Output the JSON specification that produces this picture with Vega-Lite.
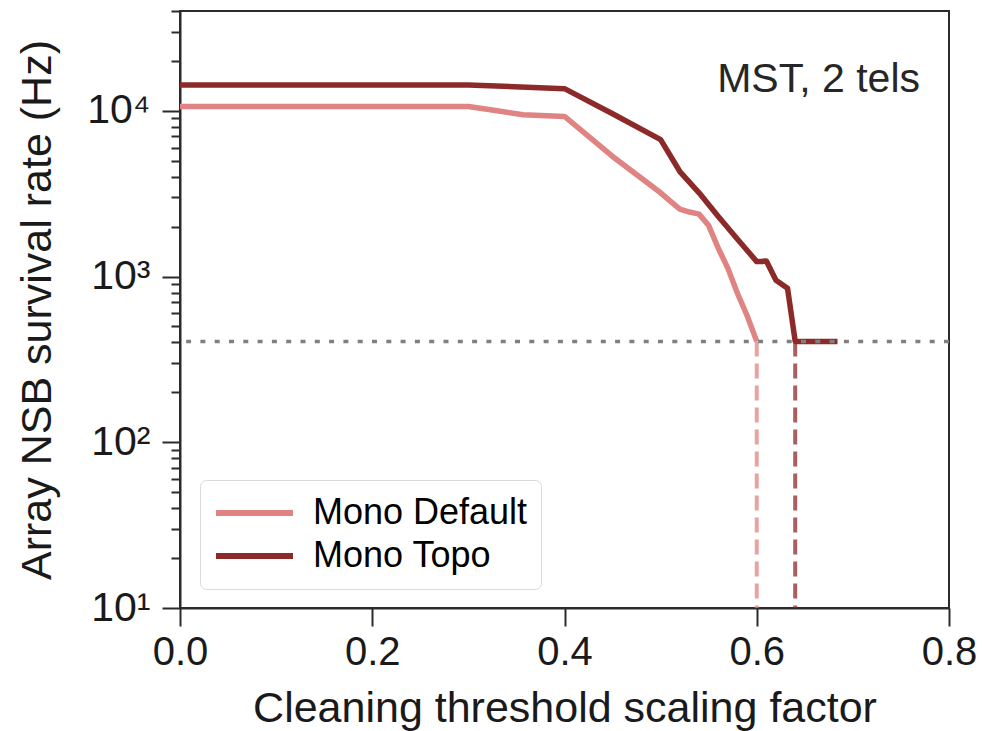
{
  "$schema": "https://vega.github.io/schema/vega-lite/v6.json",
  "width": 769,
  "height": 597,
  "autosize": {"type": "none"},
  "padding": {"left": 180, "top": 11, "right": 34, "bottom": 123},
  "background": "white",
  "config": {
    "font": "Liberation Sans",
    "view": {"stroke": "#2b2b2b", "strokeWidth": 2},
    "axis": {
      "domainColor": "#2b2b2b",
      "domainWidth": 2,
      "tickColor": "#2b2b2b",
      "tickWidth": 2,
      "grid": false,
      "labelFont": "Liberation Sans",
      "labelColor": "#1a1a1a",
      "titleFont": "Liberation Sans",
      "titleColor": "#1a1a1a",
      "titleFontWeight": "normal"
    }
  },
  "title": {
    "text": "MST, 2 tels",
    "anchor": "end",
    "frame": "group",
    "orient": "top",
    "offset": -81,
    "dx": -29,
    "dy": 62,
    "fontSize": 41,
    "fontWeight": "normal",
    "font": "Liberation Sans",
    "color": "#262626",
    "baseline": "alphabetic"
  },
  "datasets": {
    "curves": [
      {"series": "Mono Default", "x": 0.0, "y": 10600},
      {"series": "Mono Default", "x": 0.1, "y": 10600},
      {"series": "Mono Default", "x": 0.2, "y": 10600},
      {"series": "Mono Default", "x": 0.3, "y": 10600},
      {"series": "Mono Default", "x": 0.33, "y": 10000},
      {"series": "Mono Default", "x": 0.357, "y": 9460},
      {"series": "Mono Default", "x": 0.4, "y": 9250},
      {"series": "Mono Default", "x": 0.45, "y": 5300},
      {"series": "Mono Default", "x": 0.5, "y": 3200},
      {"series": "Mono Default", "x": 0.51, "y": 2850},
      {"series": "Mono Default", "x": 0.52, "y": 2550},
      {"series": "Mono Default", "x": 0.53, "y": 2450},
      {"series": "Mono Default", "x": 0.54, "y": 2380},
      {"series": "Mono Default", "x": 0.55, "y": 2030},
      {"series": "Mono Default", "x": 0.56, "y": 1480},
      {"series": "Mono Default", "x": 0.57, "y": 1120},
      {"series": "Mono Default", "x": 0.58, "y": 790},
      {"series": "Mono Default", "x": 0.59, "y": 580},
      {"series": "Mono Default", "x": 0.6, "y": 406},
      {"series": "Mono Topo", "x": 0.0, "y": 14300},
      {"series": "Mono Topo", "x": 0.1, "y": 14300},
      {"series": "Mono Topo", "x": 0.2, "y": 14300},
      {"series": "Mono Topo", "x": 0.3, "y": 14300},
      {"series": "Mono Topo", "x": 0.4, "y": 13600},
      {"series": "Mono Topo", "x": 0.45, "y": 9600},
      {"series": "Mono Topo", "x": 0.5, "y": 6700},
      {"series": "Mono Topo", "x": 0.52, "y": 4300},
      {"series": "Mono Topo", "x": 0.54, "y": 3200},
      {"series": "Mono Topo", "x": 0.56, "y": 2300},
      {"series": "Mono Topo", "x": 0.58, "y": 1680},
      {"series": "Mono Topo", "x": 0.6, "y": 1230},
      {"series": "Mono Topo", "x": 0.61, "y": 1240},
      {"series": "Mono Topo", "x": 0.62, "y": 950},
      {"series": "Mono Topo", "x": 0.632, "y": 850},
      {"series": "Mono Topo", "x": 0.64, "y": 406},
      {"series": "Mono Topo", "x": 0.684, "y": 406}
    ],
    "drops": [
      {"series": "Mono Default", "x": 0.6, "top": 406, "bottom": 10},
      {"series": "Mono Topo", "x": 0.64, "top": 406, "bottom": 10}
    ],
    "threshold": [
      {"rate": 406}
    ]
  },
  "layer": [
    {
      "data": {"name": "curves"},
      "mark": {"type": "line", "strokeWidth": 5.5, "strokeJoin": "round", "strokeCap": "butt", "clip": true},
      "encoding": {
        "x": {
          "field": "x",
          "type": "quantitative",
          "scale": {"domain": [0, 0.8], "nice": false, "zero": false},
          "axis": {
            "title": "Cleaning threshold scaling factor",
            "titleFontSize": 43,
            "titlePadding": 15,
            "values": [0, 0.2, 0.4, 0.6, 0.8],
            "format": ".1f",
            "labelFontSize": 40,
            "tickSize": 18,
            "labelPadding": 6,
            "labelFlush": false
          }
        },
        "y": {
          "field": "y",
          "type": "quantitative",
          "scale": {"type": "log", "domain": [10, 40000], "nice": false},
          "axis": {
            "title": "Array NSB survival rate (Hz)",
            "titleFontSize": 43,
            "titlePadding": 27,
            "values": [10, 20, 30, 40, 50, 60, 70, 80, 90, 100, 200, 300, 400, 500, 600, 700, 800, 900, 1000, 2000, 3000, 4000, 5000, 6000, 7000, 8000, 9000, 10000, 20000, 30000, 40000],
            "labelExpr": "datum.value == 10 ? '10¹' : datum.value == 100 ? '10²' : datum.value == 1000 ? '10³' : datum.value == 10000 ? '10⁴' : ''",
            "labelFontSize": 41,
            "labelPadding": 12,
            "labelFlush": false,
            "labelOverlap": false,
            "tickSize": {"condition": {"test": "datum.value == 10 || datum.value == 100 || datum.value == 1000 || datum.value == 10000", "value": 18}, "value": 9}
          }
        },
        "color": {
          "field": "series",
          "type": "nominal",
          "scale": {"domain": ["Mono Default", "Mono Topo"], "range": ["#df8383", "#8c2a2a"]},
          "legend": {
            "title": null,
            "orient": "none",
            "legendX": 20,
            "legendY": 469,
            "fillColor": "white",
            "strokeColor": "#d9d9d9",
            "cornerRadius": 6,
            "padding": 13,
            "symbolType": "stroke",
            "symbolSize": 5929,
            "symbolStrokeWidth": 6,
            "symbolDash": [],
            "symbolOpacity": 1,
            "clipHeight": 40,
            "labelFontSize": 36,
            "labelFont": "Liberation Sans",
            "labelColor": "black",
            "labelOffset": 17,
            "rowPadding": 3,
            "labelLimit": 400
          }
        }
      }
    },
    {
      "data": {"name": "drops"},
      "mark": {"type": "rule", "strokeWidth": 4, "strokeDash": [15, 7], "opacity": 0.75},
      "encoding": {
        "x": {"field": "x", "type": "quantitative"},
        "y": {"field": "top", "type": "quantitative"},
        "y2": {"field": "bottom"},
        "stroke": {
          "field": "series",
          "type": "nominal",
          "scale": {"domain": ["Mono Default", "Mono Topo"], "range": ["#df8383", "#8c2a2a"]},
          "legend": null
        }
      }
    },
    {
      "data": {"name": "threshold"},
      "mark": {"type": "rule", "strokeWidth": 3.5, "strokeDash": [5, 9.3], "color": "#808080"},
      "encoding": {
        "y": {"field": "rate", "type": "quantitative"}
      }
    }
  ]
}
